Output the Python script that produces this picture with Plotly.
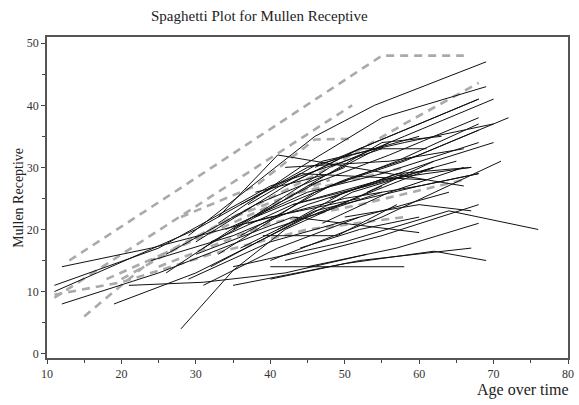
import plotly.graph_objects as go

# ---- data: each subject = (ages, scores) ----
black_ages = [
    [29, 46, 54, 69], [33, 44, 55, 69], [30, 42, 52, 68], [35, 48, 58, 70],
    [31, 45, 56, 68], [38, 50, 60, 72], [33, 46, 57, 68], [36, 48, 58, 68],
    [34, 45, 55, 68], [40, 55, 71], [32, 43, 55, 67], [37, 50, 60, 68],
    [33, 41, 66], [42, 55, 68], [35, 50, 64, 76], [45, 57, 68],
    [40, 52, 67], [40, 58], [35, 50, 62, 69], [28, 35, 42, 55],
    [12, 24, 40, 52], [11, 25, 40, 55], [11, 30, 45, 60], [12, 25, 40, 55],
    [19, 30, 45, 62], [21, 31, 42, 53], [31, 41, 52, 64], [30, 43, 60],
    [36, 44, 61], [39, 49, 57], [44, 52, 60], [42, 56, 66],
    [26, 36, 47], [24, 35, 45, 58], [37, 47, 58, 70], [41, 50, 62],
    [45, 55, 63], [38, 48, 56], [26, 38, 50], [32, 40, 51, 62],
    [43, 53, 65], [47, 56, 66], [29, 40, 52], [36, 46, 60, 68],
    [46, 58, 68], [50, 60, 67], [42, 52, 61], [48, 57, 67], [53, 62, 70],
]
black_scores = [
    [19, 35, 40, 47], [21, 30, 38, 43], [18, 27, 33, 41], [20, 30, 35, 41],
    [17, 27, 32, 38], [22, 28, 32, 38], [16, 26, 31, 37], [19, 27, 31, 36],
    [20, 26, 29, 34], [15, 22, 31], [18, 24, 28, 30], [21, 25, 27, 29],
    [22, 32, 27], [15, 19, 24], [14, 18, 23, 20], [14, 17, 21],
    [12, 15, 17], [14, 14], [11, 14.5, 16.5, 15], [4, 13.4, 20, 27],
    [14, 17, 22, 25], [11, 17, 27, 33], [10, 20, 30, 35], [8, 13, 20, 26],
    [8, 13, 22, 30], [11, 11.5, 13, 16], [11, 17, 22, 26], [16, 22, 19.5],
    [24, 29, 28], [19, 19, 24], [17, 20, 22], [30, 31, 33],
    [13, 21, 28], [15, 19, 24, 29], [24, 31, 34, 37], [20, 26, 31],
    [27, 34, 35], [26, 29, 34], [16, 24, 30], [14, 19, 26, 30],
    [24, 27, 31], [21, 26, 30], [12, 18, 22], [17, 23, 27, 29],
    [30, 36, 41], [22, 24, 23], [27, 33, 33], [25, 29, 30], [26, 31, 34],
]

gray_ages = [
    [13, 29, 55, 66], [11, 29, 51], [15, 24, 35, 48], [11, 20, 32, 45, 58],
    [20, 35, 48, 58, 68], [28, 38, 46, 51], [25, 40, 52, 66], [18, 33, 44, 58],
]
gray_scores = [
    [15, 27.5, 48, 48], [9, 23, 40], [6, 15, 22, 28], [9.5, 11.5, 16, 20, 22],
    [12, 22, 30, 37, 43.6], [22, 27, 34.5, 34.6], [14, 21, 24, 28], [12, 20, 26, 30],
]

x_ticks = [10, 20, 30, 40, 50, 60, 70, 80]
y_ticks = [0, 10, 20, 30, 40, 50]

FONT = "Liberation Serif"

fig = go.Figure()
for a, s in zip(gray_ages, gray_scores):
    fig.add_trace(go.Scatter(x=a, y=s, mode="lines",
                             line=dict(color="#aaaaaa", width=2.6, dash="8px,6px"),
                             showlegend=False, hoverinfo="skip"))
for a, s in zip(black_ages, black_scores):
    fig.add_trace(go.Scatter(x=a, y=s, mode="lines",
                             line=dict(color="#111111", width=1),
                             showlegend=False, hoverinfo="skip"))

axis_common = dict(showgrid=False, zeroline=False, showline=True, mirror=True,
                   linecolor="#555555", linewidth=1.5, ticks="outside",
                   ticklen=4, tickcolor="#444444",
                   tickfont=dict(family=FONT, size=12, color="#333333"))

fig.update_xaxes(range=[10, 80], tickvals=x_ticks, ticktext=[str(v) for v in x_ticks],
                 minor=dict(dtick=5, ticks="outside", ticklen=3, tickcolor="#444444"),
                 **axis_common)
fig.update_yaxes(range=[-0.7, 51], tickvals=y_ticks, ticktext=[str(v) for v in y_ticks],
                 minor=dict(dtick=5, ticks="outside", ticklen=3, tickcolor="#444444"),
                 **axis_common)

fig.update_layout(
    width=579, height=405,
    margin=dict(l=47, r=5, t=37, b=47),
    paper_bgcolor="white", plot_bgcolor="white",
    font=dict(family=FONT, color="#222222"),
    annotations=[
        dict(text="Spaghetti Plot for Mullen Receptive", xref="paper", yref="paper",
             x=(262 - 47) / 527, y=1 + (37 - 16) / 321, xanchor="center", yanchor="middle",
             showarrow=False, font=dict(family=FONT, size=15, color="#222222")),
        dict(text="Mullen Receptive", xref="paper", yref="paper",
             x=-(47 - 18) / 527, y=0.5, xanchor="center", yanchor="middle",
             textangle=-90, showarrow=False,
             font=dict(family=FONT, size=14, color="#222222")),
        dict(text="Age over time", xref="paper", yref="paper",
             x=1 + 3 / 527, y=-(390 - 358) / 321, xanchor="right", yanchor="middle",
             showarrow=False, font=dict(family=FONT, size=16, color="#222222")),
    ],
)

fig.write_html("out.html", config={"displayModeBar": False},
               post_script="document.body.style.margin='0';document.body.style.padding='0';")
